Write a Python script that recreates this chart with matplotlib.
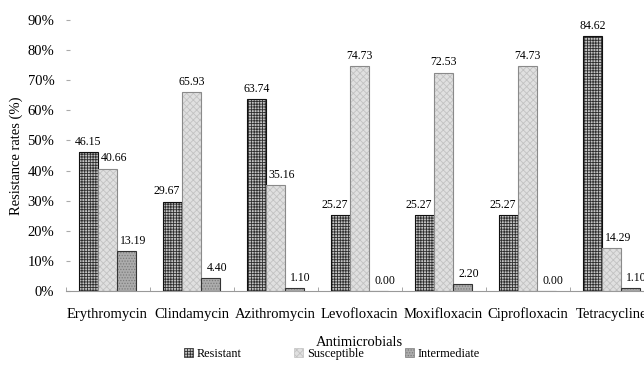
import matplotlib
matplotlib.use("Agg")
import matplotlib.pyplot as plt
import numpy as np
from matplotlib.patches import Patch

plt.rcParams['font.family'] = ['Liberation Serif', 'DejaVu Serif']
plt.rcParams['hatch.linewidth'] = 0.6

categories = ["Erythromycin", "Clindamycin", "Azithromycin", "Levofloxacin",
              "Moxifloxacin", "Ciprofloxacin", "Tetracycline"]
resistant = [46.15, 29.67, 63.74, 25.27, 25.27, 25.27, 84.62]
susceptible = [40.66, 65.93, 35.16, 74.73, 72.53, 74.73, 14.29]
intermediate = [13.19, 4.40, 1.10, 0.00, 2.20, 0.00, 1.10]
series_names = ["Resistant", "Susceptible", "Intermediate"]
yticks = [0, 10, 20, 30, 40, 50, 60, 70, 80, 90]

styles = [
    dict(face="#c4c4c4", hatch="++++++", hcol="#2e2e2e", edge="#111111"),
    dict(face="#e0e0e0", hatch="xxxxx", hcol="#c2c2c2", edge="#8a8a8a"),
    dict(face="#acacac", hatch="......", hcol="#7c7c7c", edge="#333333"),
]

fig = plt.figure(figsize=(6.44, 3.70), dpi=100)
ax = fig.add_axes([65.5/644, 1-291/370, 588/644, 271/370])

x = np.arange(len(categories))
w = 0.226
data = [resistant, susceptible, intermediate]
for i, (vals, st) in enumerate(zip(data, styles)):
    pos = x + (i - 1) * w
    ax.bar(pos, vals, w, color=st["face"], edgecolor=st["hcol"], hatch=st["hatch"], linewidth=0)
    ax.bar(pos, vals, w, facecolor="none", edgecolor=st["edge"], linewidth=0.8)
    for j, (p, v) in enumerate(zip(pos, vals)):
        # nudge label away from a taller neighbouring bar in the same group
        left = data[i - 1][j] if i > 0 else -1
        right = data[i + 1][j] if i < 2 else -1
        dx = 4.5 if left > v else (-4.5 if right > v else 0)
        ax.annotate(f"{v:.2f}", (p, v), xytext=(dx, 3), textcoords="offset points",
                    ha="center", va="bottom", fontsize=8.5)

ax.set_xlim(-0.5, len(categories) - 0.5)
ax.set_ylim(0, 90)
ax.set_yticks(yticks)
ax.set_yticklabels([f"{v}%" for v in yticks], fontsize=10.5)
ax.set_xticks(x)
ax.set_xticklabels(categories, fontsize=10.5)
ax.set_xticks(np.arange(len(categories) + 1) - 0.5, minor=True)
ax.tick_params(axis='x', which='major', length=0, pad=12)
ax.tick_params(axis='x', which='minor', direction='in', length=3, color='#999999')
ax.tick_params(axis='y', direction='in', length=3, color='#aaaaaa', pad=8)

for s in ["top", "right", "left"]:
    ax.spines[s].set_visible(False)
ax.spines["bottom"].set_color("#999999")
ax.spines["bottom"].set_linewidth(0.8)

ax.set_ylabel("Resistance rates (%)", fontsize=10.5, labelpad=3.5)
fig.text(359.5/644, 1-342/370, "Antimicrobials", ha="center", va="center", fontsize=10.5)

legend_x = [184, 294, 405]
for name, st, lx in zip(series_names, styles, legend_x):
    h = Patch(facecolor=st["face"], edgecolor=st["hcol"], hatch=st["hatch"], linewidth=0.5)
    fig.legend([h], [name], loc="center left", bbox_to_anchor=(lx/644, 1-354/370),
               frameon=False, fontsize=8.8, handlelength=0.75, handleheight=0.75,
               handletextpad=0.3, borderpad=0, borderaxespad=0)

fig.savefig("out.png", dpi=100)
